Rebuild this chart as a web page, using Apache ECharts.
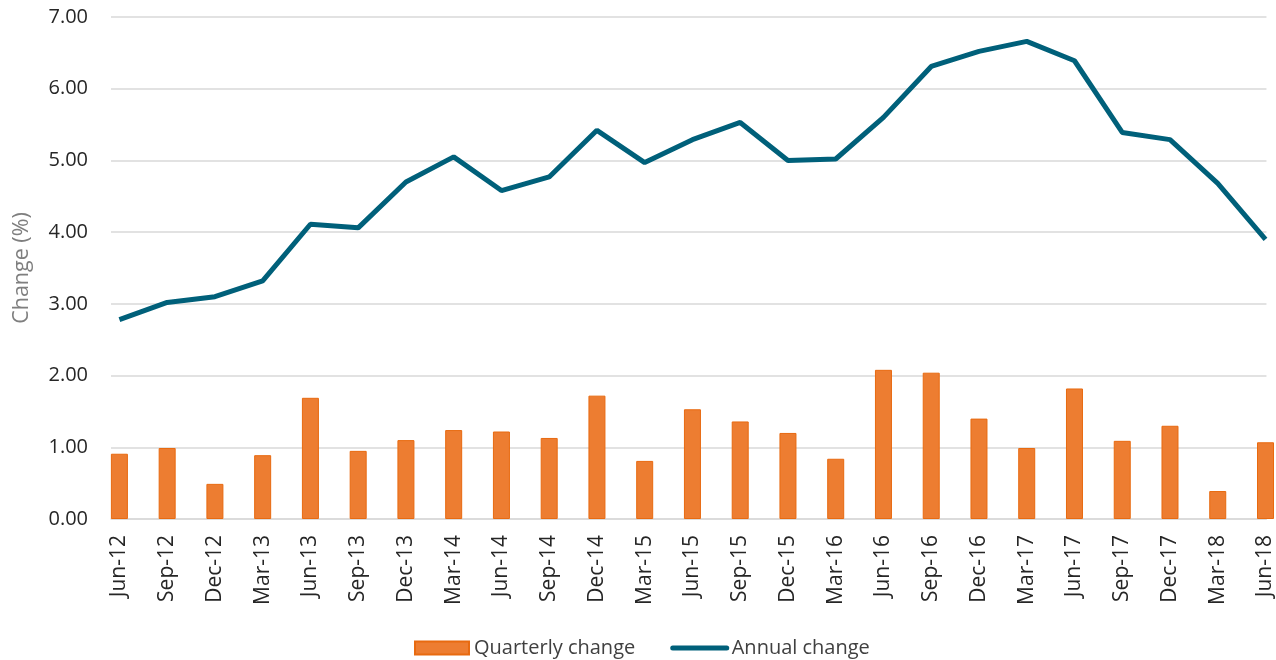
<!DOCTYPE html>
<html>
<head>
<meta charset="utf-8">
<script src="https://cdn.jsdelivr.net/npm/echarts@6/dist/echarts.min.js"></script>
<style>html,body{margin:0;padding:0;background:#fff}#c{width:1276px;height:660px}</style>
</head>
<body>
<div id="c"></div>
<script>
const categories = ['Jun-12','Sep-12','Dec-12','Mar-13','Jun-13','Sep-13','Dec-13','Mar-14','Jun-14','Sep-14','Dec-14','Mar-15','Jun-15','Sep-15','Dec-15','Mar-16','Jun-16','Sep-16','Dec-16','Mar-17','Jun-17','Sep-17','Dec-17','Mar-18','Jun-18'];
const quarterly = [0.91,0.99,0.49,0.89,1.69,0.95,1.10,1.24,1.22,1.13,1.72,0.81,1.53,1.36,1.20,0.84,2.08,2.04,1.40,0.99,1.82,1.09,1.30,0.39,1.07];
const annual = [2.78,3.02,3.10,3.32,4.11,4.06,4.70,5.05,4.58,4.77,5.42,4.97,5.29,5.53,5.00,5.02,5.60,6.31,6.52,6.66,6.39,5.39,5.29,4.68,3.90];
const yTicks = [0,1,2,3,4,5,6,7];

const idx = categories.map((_, i) => i);
const font = '"Open Sans", sans-serif';
const chart = echarts.init(document.getElementById('c'), null, {renderer: 'canvas'});
chart.setOption({
  animation: false,
  grid: {left: 111, right: 0, top: 17, bottom: 141, containLabel: false},
  legend: {
    left: 409, top: 633, itemGap: 35, itemWidth: 54, itemHeight: 13,
    textStyle: {fontFamily: font, fontSize: 20, color: '#404040'},
    data: [
      {name: 'Quarterly change', icon: 'rect'},
      {name: 'Annual change', itemStyle: {opacity: 0}, lineStyle: {width: 5, cap: 'round'}}
    ]
  },
  xAxis: {
    type: 'value', min: -0.176, max: 24.02,
    splitLine: {show: false},
    axisTick: {show: false},
    axisLine: {show: true, lineStyle: {color: '#d9d9d9', width: 1.5}},
    axisLabel: {
      customValues: idx, rotate: 90, margin: 16,
      fontFamily: font, fontSize: 21, color: '#262626',
      formatter: v => categories[Math.round(v)] || ''
    }
  },
  yAxis: {
    type: 'value', min: yTicks[0], max: yTicks[yTicks.length - 1], interval: 1,
    name: 'Change (%)', nameLocation: 'middle', nameGap: 78,
    nameTextStyle: {fontFamily: font, fontSize: 21.5, color: '#7f7f7f'},
    axisLine: {show: false}, axisTick: {show: false},
    axisLabel: {margin: 23, fontFamily: font, fontSize: 20, color: '#262626', formatter: v => v.toFixed(2)},
    splitLine: {lineStyle: {color: '#d9d9d9', width: 1.5}}
  },
  series: [
    {
      name: 'Quarterly change', type: 'bar', barWidth: 17,
      data: quarterly.map((v, i) => [i, v]),
      itemStyle: {color: '#ED7D31', borderColor: '#E86A10', borderWidth: 1}
    },
    {
      name: 'Annual change', type: 'line', symbol: 'circle', showSymbol: false,
      data: annual.map((v, i) => [i, v]),
      lineStyle: {color: '#00607A', width: 5},
      itemStyle: {color: '#00607A'}
    }
  ]
});
</script>
</body>
</html>
